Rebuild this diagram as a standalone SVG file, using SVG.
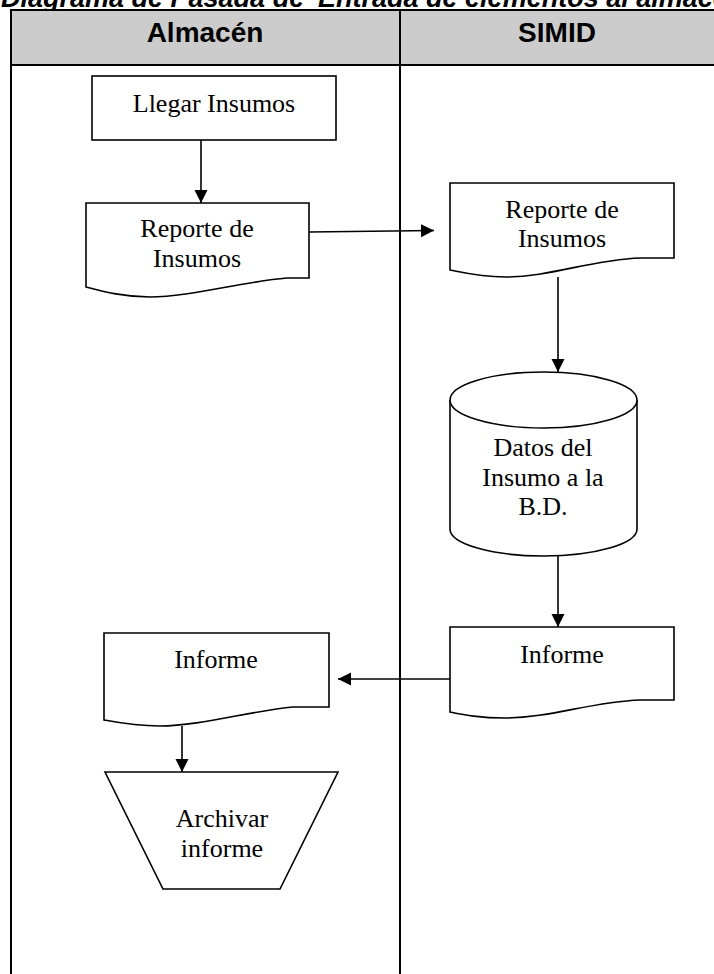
<svg xmlns="http://www.w3.org/2000/svg" width="714" height="974" viewBox="0 0 714 974">
  <style>
    .title { font-family: "Liberation Sans", Arial, sans-serif; font-weight: bold; font-style: italic; font-size: 27px; fill: #000; }
    .lane-head { font-family: "Liberation Sans", Arial, sans-serif; font-weight: bold; font-size: 28px; fill: #000; text-anchor: middle; }
    .lane-line { stroke: #000; stroke-width: 2; fill: none; }
    .shape { fill: #fff; stroke: #000; stroke-width: 1.6; }
    .label { font-family: "Liberation Serif", "Times New Roman", serif; font-size: 26px; fill: #000; text-anchor: middle; }
    .conn { stroke: #000; stroke-width: 1.6; fill: none; marker-end: url(#arrow); }
  </style>
  <defs>
    <marker id="arrow" markerUnits="userSpaceOnUse" markerWidth="14" markerHeight="14" refX="13" refY="6.5" orient="auto">
      <path d="M0,0 L13,6.5 L0,13 Z" fill="#000"/>
    </marker>
  </defs>

  <rect width="714" height="974" fill="#fff"/>

  <!-- title, partly above the frame -->
  <text class="title" x="1" y="7">Diagrama de Pasada de 'Entrada de elementos al almacén'</text>

  <!-- swimlane frame -->
  <g id="lanes">
    <rect x="11" y="10" width="712" height="55" fill="#cccccc"/>
    <line class="lane-line" x1="11" y1="10" x2="714" y2="10"/>
    <line class="lane-line" x1="11" y1="65" x2="714" y2="65"/>
    <line class="lane-line" x1="11" y1="9" x2="11" y2="974"/>
    <line class="lane-line" x1="400" y1="9" x2="400" y2="974"/>
    <text class="lane-head" x="205" y="42">Almacén</text>
    <text class="lane-head" x="557" y="42">SIMID</text>
  </g>

  <!-- connectors -->
  <g id="connectors">
    <line class="conn" x1="201" y1="140" x2="201" y2="203"/>
    <line class="conn" x1="309" y1="232" x2="434" y2="230.5"/>
    <line class="conn" x1="558" y1="277" x2="558" y2="372"/>
    <line class="conn" x1="558" y1="556" x2="558" y2="627"/>
    <line class="conn" x1="450" y1="679" x2="338" y2="679"/>
    <line class="conn" x1="182" y1="726" x2="182" y2="772"/>
  </g>

  <!-- Almacén lane -->
  <g id="llegar-insumos">
    <rect class="shape" x="92" y="76" width="244" height="64"/>
    <text class="label" x="214" y="112">Llegar Insumos</text>
  </g>

  <g id="reporte-almacen">
    <path class="shape" d="M86,203 H309 V278 H287 C240,282 190,297 150,297 C125,297 105,292 86,287 Z"/>
    <text class="label" x="197" y="237">Reporte de</text>
    <text class="label" x="197" y="267">Insumos</text>
  </g>

  <g id="informe-almacen">
    <path class="shape" d="M104,633 H329 V707 H293 C250,711 200,726 160,726 C135,726 120,723 104,720 Z"/>
    <text class="label" x="216" y="668">Informe</text>
  </g>

  <g id="archivar-informe">
    <path class="shape" d="M105,772 H338 L280,889 H163 Z"/>
    <text class="label" x="222" y="827">Archivar</text>
    <text class="label" x="222" y="857">informe</text>
  </g>

  <!-- SIMID lane -->
  <g id="reporte-simid">
    <path class="shape" d="M450,183 H674 V258 H640 C590,260 550,277 505,277 C480,277 465,273 450,270 Z"/>
    <text class="label" x="562" y="218">Reporte de</text>
    <text class="label" x="562" y="247">Insumos</text>
  </g>

  <g id="datos-bd">
    <path class="shape" d="M450,400 A93.5,28 0 0 1 637,400 V529 A93.5,27 0 0 1 450,529 Z"/>
    <path class="shape" fill="none" d="M450,400 A93.5,28 0 0 0 637,400"/>
    <text class="label" x="543" y="456">Datos del</text>
    <text class="label" x="543" y="486">Insumo a la</text>
    <text class="label" x="543" y="515">B.D.</text>
  </g>

  <g id="informe-simid">
    <path class="shape" d="M450,627 H674 V700 H640 C590,702 550,718 505,718 C480,718 465,715 450,712 Z"/>
    <text class="label" x="562" y="663">Informe</text>
  </g>
</svg>
